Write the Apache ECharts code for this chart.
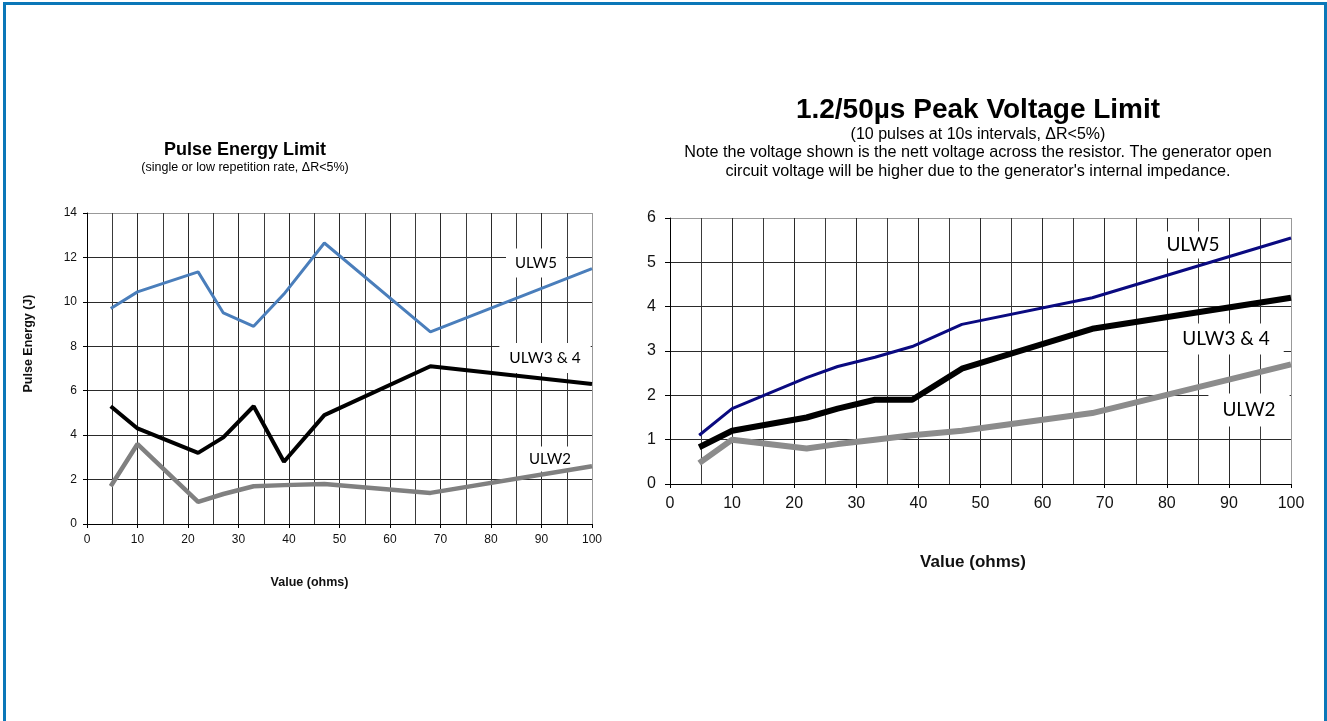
<!DOCTYPE html>
<html><head><meta charset="utf-8">
<script src="https://cdn.jsdelivr.net/npm/echarts@6/dist/echarts.min.js"></script>
<style>
html,body{margin:0;padding:0;background:#fff;overflow:hidden;width:1327px;height:721px}
#frame{position:absolute;left:3px;top:2px;width:1318px;height:760px;border:3px solid #0b77b8;border-bottom:none}
#chart{position:absolute;left:0;top:0;width:1327px;height:721px}
</style></head><body>
<div id="frame"></div><div id="chart"></div>
<script>
// ---- data ----
const ohms = [4.7, 10, 22, 27, 33, 39, 47, 68, 100];
const seriesNames = ['ULW5', 'ULW3 & 4', 'ULW2'];
const energyULW5  = [9.7, 10.45, 11.35, 9.5, 8.9, 10.35, 12.65, 8.65, 11.5];
const energyULW34 = [5.3, 4.3, 3.2, 3.9, 5.3, 2.8, 4.9, 7.1, 6.3];
const energyULW2  = [1.7, 3.6, 1.0, 1.35, 1.7, 1.75, 1.8, 1.4, 2.6];
const voltULW5  = [1.1, 1.7, 2.4, 2.65, 2.86, 3.1, 3.6, 4.2, 5.55];
const voltULW34 = [0.83, 1.2, 1.5, 1.7, 1.9, 1.9, 2.6, 3.5, 4.2];
const voltULW2  = [0.47, 1.0, 0.8, 0.9, 1.0, 1.1, 1.2, 1.6, 2.7];
const leftTitle = 'Pulse Energy Limit';
const leftSub = '(single or low repetition rate, \u0394R<5%)';
const rightTitle = '1.2/50\u00b5s Peak Voltage Limit';
const rightSub = ['(10 pulses at 10s intervals, \u0394R<5%)',
  'Note the voltage shown is the nett voltage across the resistor. The generator open',
  "circuit voltage will be higher due to the generator's internal impedance."];

const pairs = arr => ohms.map((x, i) => [x, arr[i]]);
const AR = '"Liberation Sans", Arial, sans-serif';
const LB = 'Lato, "Open Sans", sans-serif';
function cyc(n, last) { const a = []; for (let i = 0; i < n - 1; i++) a.push('#2a2a2a'); a.push(last); return a; }

function xAx(gi, fs, margin, nameFs, gap, padR) {
  return {
    gridIndex: gi, type: 'value', min: 0, max: 100, interval: 10,
    axisLine: { show: true, lineStyle: { color: '#000', width: 1 } },
    axisTick: { show: true, length: 4, lineStyle: { color: '#000' } },
    axisLabel: { fontSize: fs, color: '#111', margin: margin, fontFamily: AR },
    splitLine: { show: true, lineStyle: { color: cyc(11, '#999'), width: 1 } },
    minorTick: { show: false, splitNumber: 2 },
    minorSplitLine: { show: true, lineStyle: { color: '#3a3a3a', width: 1 } },
    name: 'Value (ohms)', nameLocation: 'middle', nameGap: gap,
    nameTextStyle: { fontSize: nameFs, fontWeight: 'bold', color: '#111', fontFamily: AR, padding: [0, padR, 0, 0] }
  };
}
const option = {
  animation: false,
  backgroundColor: 'transparent',
  grid: [
    { left: 87, top: 213, width: 505, height: 311 },
    { left: 670, top: 218, width: 621, height: 266 }
  ],
  xAxis: [xAx(0, 12, 10, 12.5, 52, 60), xAx(1, 16, 12, 17, 70, 15)],
  yAxis: [
    { gridIndex: 0, type: 'value', min: 0, max: 14, interval: 2,
      axisLine: { show: true, lineStyle: { color: '#000' } },
      axisTick: { show: true, length: 4, lineStyle: { color: '#000' } },
      axisLabel: { fontSize: 12, color: '#111', margin: 10, fontFamily: AR },
      splitLine: { show: true, lineStyle: { color: cyc(8, '#999'), width: 1 } },
      name: 'Pulse Energy (J)', nameLocation: 'middle', nameGap: 52,
      nameTextStyle: { fontSize: 12.5, fontWeight: 'bold', color: '#111', fontFamily: AR, padding: [0, 0, 0, 50] } },
    { gridIndex: 1, type: 'value', min: 0, max: 6, interval: 1,
      axisLine: { show: true, lineStyle: { color: '#000' } },
      axisTick: { show: true, length: 5, lineStyle: { color: '#000' } },
      axisLabel: { fontSize: 16, color: '#111', margin: 14, fontFamily: AR },
      splitLine: { show: true, lineStyle: { color: cyc(7, '#999'), width: 1 } } }
  ],
  series: [
    { name: seriesNames[2], type: 'line', xAxisIndex: 0, yAxisIndex: 0, data: pairs(energyULW2), showSymbol: false, symbol: 'none', lineStyle: { color: '#808080', width: 4.5 }, z: 3 },
    { name: seriesNames[1], type: 'line', xAxisIndex: 0, yAxisIndex: 0, data: pairs(energyULW34), showSymbol: false, symbol: 'none', lineStyle: { color: '#000', width: 4 }, z: 4 },
    { name: seriesNames[0], type: 'line', xAxisIndex: 0, yAxisIndex: 0, data: pairs(energyULW5), showSymbol: false, symbol: 'none', lineStyle: { color: '#4a7ebb', width: 3 }, z: 5 },
    { name: seriesNames[2], type: 'line', xAxisIndex: 1, yAxisIndex: 1, data: pairs(voltULW2), showSymbol: false, symbol: 'none', lineStyle: { color: '#8c8c8c', width: 6 }, z: 3 },
    { name: seriesNames[1], type: 'line', xAxisIndex: 1, yAxisIndex: 1, data: pairs(voltULW34), showSymbol: false, symbol: 'none', lineStyle: { color: '#000', width: 6 }, z: 4 },
    { name: seriesNames[0], type: 'line', xAxisIndex: 1, yAxisIndex: 1, data: pairs(voltULW5), showSymbol: false, symbol: 'none', lineStyle: { color: '#0a0a80', width: 3 }, z: 5 }
  ],
  graphic: [
    { type: 'text', x: 245, y: 150, z: 1, style: { text: leftTitle, font: 'bold 18px ' + AR, fill: '#000', align: 'center', verticalAlign: 'middle' } },
    { type: 'text', x: 245, y: 168, z: 1, style: { text: leftSub, font: '12.5px ' + AR, fill: '#000', align: 'center', verticalAlign: 'middle' } },
    { type: 'text', x: 978, y: 110, z: 1, style: { text: rightTitle, font: 'bold 28px ' + AR, fill: '#000', align: 'center', verticalAlign: 'middle' } },
    { type: 'text', x: 978, y: 135, z: 1, style: { text: rightSub[0], font: '16px ' + AR, fill: '#000', align: 'center', verticalAlign: 'middle' } },
    { type: 'text', x: 978, y: 153, z: 1, style: { text: rightSub[1], font: '16.2px ' + AR, fill: '#000', align: 'center', verticalAlign: 'middle' } },
    { type: 'text', x: 978, y: 172, z: 1, style: { text: rightSub[2], font: '16.2px ' + AR, fill: '#000', align: 'center', verticalAlign: 'middle' } },
    // series labels (left)
    { type: 'text', x: 536, y: 263, z: 1, style: { text: seriesNames[0], font: '15px ' + LB, fill: '#000', backgroundColor: '#fff', padding: [7, 9], align: 'center', verticalAlign: 'middle' } },
    { type: 'text', x: 545, y: 358, z: 1, style: { text: seriesNames[1], font: '15.5px ' + LB, fill: '#000', backgroundColor: '#fff', padding: [7, 10], align: 'center', verticalAlign: 'middle' } },
    { type: 'text', x: 550, y: 459, z: 1, style: { text: seriesNames[2], font: '15px ' + LB, fill: '#000', backgroundColor: '#fff', padding: [5, 5], align: 'center', verticalAlign: 'middle' } },
    // series labels (right)
    { type: 'text', x: 1193, y: 245, z: 1, style: { text: seriesNames[0], font: '19px ' + LB, fill: '#000', backgroundColor: '#fff', padding: [4, 8], align: 'center', verticalAlign: 'middle' } },
    { type: 'text', x: 1226, y: 339, z: 1, style: { text: seriesNames[1], font: '19px ' + LB, fill: '#000', backgroundColor: '#fff', padding: [6, 14], align: 'center', verticalAlign: 'middle' } },
    { type: 'text', x: 1249, y: 410, z: 1, style: { text: seriesNames[2], font: '19px ' + LB, fill: '#000', backgroundColor: '#fff', padding: [7, 14], align: 'center', verticalAlign: 'middle' } }
  ]
};
const chart = echarts.init(document.getElementById('chart'), null, { renderer: 'canvas' });
chart.setOption(option);
</script>
</body></html>
